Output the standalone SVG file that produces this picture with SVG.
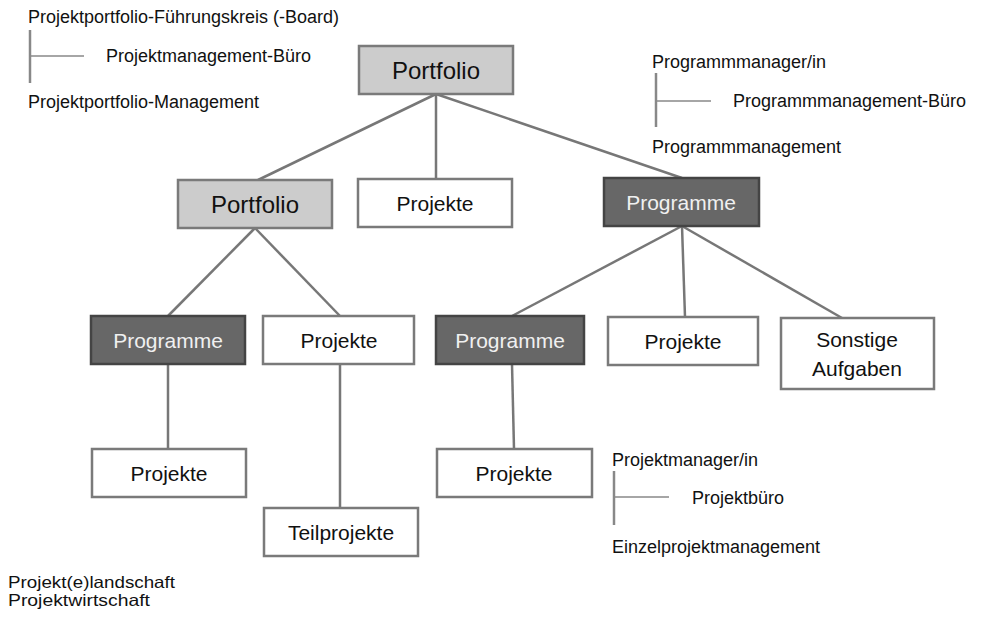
<svg xmlns="http://www.w3.org/2000/svg" width="981" height="618" viewBox="0 0 981 618">
<style>
  text { font-family: "Liberation Sans", Arial, sans-serif; fill: #111; }
  .lbl { font-size: 18px; }
  .lbl-s { font-size: 16.5px; }
  .bt { font-size: 21px; text-anchor: middle; }
  .bt-big { font-size: 24px; text-anchor: middle; }
  .light { fill: #f0f0f0; }
  .box-w { fill: #ffffff; stroke: #7a7a7a; stroke-width: 2.5; }
  .box-g { fill: #cccccc; stroke: #7a7a7a; stroke-width: 2.5; }
  .box-d { fill: #676767; stroke: #444444; stroke-width: 2.5; }
  .conn line { stroke: #777777; stroke-width: 2.5; }
  .brk { stroke: #888888; stroke-width: 2.5; }
  .brk-h { stroke: #888888; stroke-width: 1.6; }
</style>
<rect width="981" height="618" fill="#ffffff"/>

<g id="connectors" class="conn">
  <line x1="436" y1="94" x2="258" y2="180"/>
  <line x1="436" y1="94" x2="436" y2="179"/>
  <line x1="436" y1="94" x2="682" y2="178"/>
  <line x1="255" y1="228" x2="168" y2="316"/>
  <line x1="255" y1="228" x2="340" y2="316"/>
  <line x1="682" y1="226" x2="512" y2="316"/>
  <line x1="682" y1="226" x2="685" y2="317"/>
  <line x1="682" y1="226" x2="842" y2="318"/>
  <line x1="168" y1="364" x2="168" y2="449"/>
  <line x1="340" y1="364" x2="340" y2="508"/>
  <line x1="512" y1="364" x2="514" y2="449"/>
</g>

<g id="portfolio-top">
  <rect class="box-g" x="359" y="46" width="154" height="48"/>
  <text class="bt-big" x="436" y="79">Portfolio</text>
</g>
<g id="portfolio-left">
  <rect class="box-g" x="178" y="180" width="154" height="48"/>
  <text class="bt-big" x="255" y="213">Portfolio</text>
</g>
<g id="projekte-mid">
  <rect class="box-w" x="358" y="179" width="154" height="48"/>
  <text class="bt" x="435" y="211">Projekte</text>
</g>
<g id="programme-right">
  <rect class="box-d" x="604" y="178" width="155" height="48"/>
  <text class="bt light" x="681" y="210">Programme</text>
</g>
<g id="programme-left">
  <rect class="box-d" x="91" y="316" width="154" height="48"/>
  <text class="bt light" x="168" y="348">Programme</text>
</g>
<g id="projekte-left">
  <rect class="box-w" x="263" y="316" width="151" height="48"/>
  <text class="bt" x="339" y="348">Projekte</text>
</g>
<g id="programme-right2">
  <rect class="box-d" x="436" y="316" width="148" height="48"/>
  <text class="bt light" x="510" y="348">Programme</text>
</g>
<g id="projekte-right2">
  <rect class="box-w" x="608" y="317" width="150" height="48"/>
  <text class="bt" x="683" y="349">Projekte</text>
</g>
<g id="sonstige">
  <rect class="box-w" x="781" y="318" width="153" height="71"/>
  <text class="bt" x="857" y="347">Sonstige</text>
  <text class="bt" x="857" y="376">Aufgaben</text>
</g>
<g id="projekte-ll">
  <rect class="box-w" x="92" y="449" width="154" height="48"/>
  <text class="bt" x="169" y="481">Projekte</text>
</g>
<g id="teilprojekte">
  <rect class="box-w" x="264" y="508" width="154" height="48"/>
  <text class="bt" x="341" y="540">Teilprojekte</text>
</g>
<g id="projekte-r3">
  <rect class="box-w" x="437" y="449" width="155" height="48"/>
  <text class="bt" x="514" y="481">Projekte</text>
</g>

<g id="legend-portfolio">
  <text class="lbl" x="28" y="23">Projektportfolio-Führungskreis (-Board)</text>
  <line class="brk" x1="30" y1="30" x2="30" y2="83"/>
  <line class="brk-h" x1="30" y1="56" x2="84" y2="56"/>
  <text class="lbl" x="106" y="62">Projektmanagement-Büro</text>
  <text class="lbl" x="28" y="108">Projektportfolio-Management</text>
</g>
<g id="legend-programm">
  <text class="lbl" x="652" y="68">Programmmanager/in</text>
  <line class="brk" x1="656" y1="73" x2="656" y2="127"/>
  <line class="brk-h" x1="656" y1="101" x2="711" y2="101"/>
  <text class="lbl" x="733" y="107">Programmmanagement-Büro</text>
  <text class="lbl" x="652" y="153">Programmmanagement</text>
</g>
<g id="legend-projekt">
  <text class="lbl" x="612" y="466">Projektmanager/in</text>
  <line class="brk" x1="614" y1="471" x2="614" y2="525"/>
  <line class="brk-h" x1="614" y1="497" x2="669" y2="497"/>
  <text class="lbl" x="692" y="504">Projektbüro</text>
  <text class="lbl" x="612" y="553">Einzelprojektmanagement</text>
</g>
<g id="legend-landschaft">
  <text class="lbl-s" x="8" y="588" textLength="167" lengthAdjust="spacingAndGlyphs">Projekt(e)landschaft</text>
  <text class="lbl-s" x="8" y="606" textLength="142" lengthAdjust="spacingAndGlyphs">Projektwirtschaft</text>
</g>
</svg>
